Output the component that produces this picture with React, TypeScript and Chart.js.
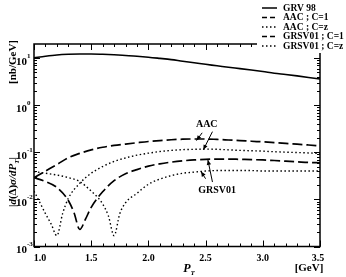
import React, { useEffect, useRef } from "react";
import { Chart, registerables } from "chart.js";
Chart.register(...registerables);

// ---- data ----
const grvX = [1.0, 1.1, 1.2, 1.3, 1.4, 1.5, 1.6, 1.7, 1.8, 1.9, 2.0, 2.1, 2.2, 2.3, 2.4, 2.5, 2.6, 2.7, 2.8, 2.9, 3.0, 3.1, 3.2, 3.3, 3.4, 3.5];
const grvY = [10.2, 11.0, 11.7, 12.1, 12.3, 12.3, 12.1, 11.8, 11.4, 11.0, 10.5, 9.9, 9.3, 8.6, 8.0, 7.4, 6.9, 6.4, 6.0, 5.6, 5.2, 4.8, 4.5, 4.2, 3.9, 3.6];

const aac1X = [1.0, 1.1, 1.2, 1.3, 1.4, 1.5, 1.6, 1.7, 1.8, 1.9, 2.0, 2.1, 2.2, 2.3, 2.4, 2.5, 2.6, 2.7, 2.8, 2.9, 3.0, 3.1, 3.2, 3.3, 3.4, 3.5];
const aac1Y = [0.029, 0.040, 0.055, 0.077, 0.095, 0.113, 0.128, 0.140, 0.150, 0.160, 0.170, 0.178, 0.185, 0.190, 0.192, 0.192, 0.188, 0.183, 0.178, 0.172, 0.167, 0.161, 0.155, 0.149, 0.143, 0.137];

const aaczX = [1.0, 1.05, 1.1, 1.15, 1.2, 1.25, 1.3, 1.4, 1.5, 1.6, 1.7, 1.8, 1.9, 2.0, 2.1, 2.2, 2.3, 2.4, 2.5, 2.6, 2.7, 2.8, 2.9, 3.0, 3.1, 3.2, 3.3, 3.4, 3.5];
const aaczY = [0.015, 0.0087, 0.005, 0.003, 0.0017, 0.005, 0.0105, 0.022, 0.036, 0.050, 0.064, 0.076, 0.087, 0.096, 0.104, 0.110, 0.114, 0.116, 0.117, 0.116, 0.113, 0.110, 0.108, 0.106, 0.103, 0.101, 0.099, 0.097, 0.095];

const grsv1X = [1.0, 1.1, 1.2, 1.3, 1.35, 1.4, 1.45, 1.5, 1.6, 1.7, 1.8, 1.9, 2.0, 2.1, 2.2, 2.3, 2.4, 2.5, 2.6, 2.7, 2.8, 2.9, 3.0, 3.1, 3.2, 3.3, 3.4, 3.5];
const grsv1Y = [0.029, 0.024, 0.018, 0.0095, 0.0052, 0.0023, 0.0038, 0.0068, 0.0145, 0.025, 0.035, 0.043, 0.051, 0.057, 0.062, 0.066, 0.069, 0.071, 0.072, 0.072, 0.071, 0.070, 0.069, 0.067, 0.065, 0.063, 0.061, 0.060];

const grszX = [1.0, 1.1, 1.2, 1.3, 1.4, 1.5, 1.55, 1.6, 1.65, 1.7, 1.75, 1.8, 1.9, 2.0, 2.1, 2.2, 2.3, 2.4, 2.5, 2.6, 2.7, 2.8, 2.9, 3.0, 3.1, 3.2, 3.3, 3.4, 3.5];
const grszY = [0.039, 0.036, 0.033, 0.029, 0.024, 0.015, 0.0115, 0.008, 0.0045, 0.0017, 0.005, 0.0085, 0.0135, 0.021, 0.027, 0.032, 0.036, 0.038, 0.040, 0.041, 0.041, 0.041, 0.041, 0.040, 0.040, 0.040, 0.040, 0.040, 0.040];

const xTickLabels = ["1.0", "1.5", "2.0", "2.5", "3.0", "3.5"];
const yExponents = [-3, -2, -1, 0, 1];
const legendLabels = ["GRV 98", "AAC ; C=1", "AAC ; C=z", "GRSV01 ; C=1", "GRSV01 ; C=z"];

const SERIF = "'Liberation Serif', 'Times New Roman', serif";
const SOLID: number[] = [];
const DASH = [10, 4];
const DOT = [1.5, 2.5];

function pts(xs: number[], ys: number[]) {
  return xs.map((x, i) => ({ x, y: ys[i] }));
}

type Piece = { t: string; font: string; dy?: number };
function drawPieces(ctx: CanvasRenderingContext2D, pieces: Piece[], cx: number, cy: number) {
  let total = 0;
  for (const p of pieces) {
    ctx.font = p.font;
    total += ctx.measureText(p.t).width;
  }
  let x = cx - total / 2;
  ctx.textAlign = "left";
  ctx.textBaseline = "alphabetic";
  for (const p of pieces) {
    ctx.font = p.font;
    ctx.fillText(p.t, x, cy + (p.dy || 0));
    x += ctx.measureText(p.t).width;
  }
}

function arrow(ctx: CanvasRenderingContext2D, x1: number, y1: number, x2: number, y2: number) {
  ctx.beginPath();
  ctx.moveTo(x1, y1);
  ctx.lineTo(x2, y2);
  ctx.stroke();
  const a = Math.atan2(y2 - y1, x2 - x1);
  const L = 5, W = 2.2;
  ctx.beginPath();
  ctx.moveTo(x2, y2);
  ctx.lineTo(x2 - L * Math.cos(a) + W * Math.sin(a), y2 - L * Math.sin(a) - W * Math.cos(a));
  ctx.lineTo(x2 - L * Math.cos(a) - W * Math.sin(a), y2 - L * Math.sin(a) + W * Math.cos(a));
  ctx.closePath();
  ctx.fill();
}

const decor = {
  id: "decor",
  afterDraw(chart: any) {
    const ctx: CanvasRenderingContext2D = chart.ctx;
    const { left, right, top, bottom } = chart.chartArea;
    const xs = chart.scales.x;
    const ys = chart.scales.y;
    ctx.save();
    ctx.strokeStyle = "#000";
    ctx.fillStyle = "#000";
    ctx.setLineDash([]);

    // annotations
    ctx.font = `bold 10px ${SERIF}`;
    ctx.textAlign = "center";
    ctx.textBaseline = "middle";
    ctx.fillText("AAC", xs.getPixelForValue(2.51), ys.getPixelForValue(0.40));
    ctx.fillText("GRSV01", xs.getPixelForValue(2.6), ys.getPixelForValue(0.0158));
    ctx.lineWidth = 1;
    arrow(ctx, xs.getPixelForValue(2.47), ys.getPixelForValue(0.26), xs.getPixelForValue(2.42), ys.getPixelForValue(0.178));
    arrow(ctx, xs.getPixelForValue(2.56), ys.getPixelForValue(0.275), xs.getPixelForValue(2.48), ys.getPixelForValue(0.113));
    arrow(ctx, xs.getPixelForValue(2.56), ys.getPixelForValue(0.0234), xs.getPixelForValue(2.52), ys.getPixelForValue(0.069));
    arrow(ctx, xs.getPixelForValue(2.50), ys.getPixelForValue(0.0275), xs.getPixelForValue(2.46), ys.getPixelForValue(0.039));

    // frame
    ctx.lineWidth = 1.5;
    ctx.strokeRect(left, top, right - left, bottom - top);
    ctx.lineWidth = 1;
    const line = (a: number, b: number, c: number, d: number) => {
      ctx.beginPath();
      ctx.moveTo(a, b);
      ctx.lineTo(c, d);
      ctx.stroke();
    };
    // x ticks
    for (let i = 0; i <= 25; i++) {
      const v = 1 + i * 0.1;
      const px = Math.round(xs.getPixelForValue(v)) + 0.5;
      const len = i % 5 === 0 ? 6 : 3;
      line(px, bottom, px, bottom - len);
      line(px, top, px, top + len);
    }
    // y ticks
    for (let e = -3; e <= 1; e++) {
      for (let m = 1; m <= 9; m++) {
        const v = m * Math.pow(10, e);
        if (v >= 20) break;
        const py = Math.round(ys.getPixelForValue(v)) + 0.5;
        const len = m === 1 ? 6 : 3;
        line(left, py, left + len, py);
        line(right, py, right - len, py);
      }
    }
    // x tick labels
    ctx.font = `bold 10px ${SERIF}`;
    ctx.textAlign = "center";
    ctx.textBaseline = "middle";
    xTickLabels.forEach((lab, i) => {
      let px = xs.getPixelForValue(1 + i * 0.5);
      if (i === 0) px += 6;
      if (i === xTickLabels.length - 1) px -= 2;
      ctx.fillText(lab, px, bottom + 12);
    });
    // y tick labels
    yExponents.forEach((e) => {
      const py = ys.getPixelForValue(Math.pow(10, e));
      ctx.textAlign = "right";
      ctx.textBaseline = "middle";
      ctx.font = `bold 11px ${SERIF}`;
      ctx.fillText("10", 27, py + 3.5);
      ctx.textAlign = "left";
      ctx.font = `bold 7px ${SERIF}`;
      ctx.fillText(String(e).replace("-", "-"), 27, py - 2);
    });

    // x axis title
    ctx.fillStyle = "#000";
    drawPieces(ctx, [
      { t: "P", font: `italic bold 12px ${SERIF}` },
      { t: "T", font: `italic bold 7px ${SERIF}`, dy: 2.5 },
    ], 189, 272);
    ctx.font = `bold 11px ${SERIF}`;
    ctx.textAlign = "center";
    ctx.textBaseline = "middle";
    ctx.fillText("[GeV]", 309, 268);

    // y axis title (rotated)
    ctx.save();
    ctx.translate(16, 0);
    ctx.rotate(-Math.PI / 2);
    const ib = `italic bold 11px ${SERIF}`;
    const nb = `bold 11px ${SERIF}`;
    drawPieces(ctx, [
      { t: "|", font: nb },
      { t: "d", font: ib },
      { t: "(Δ)", font: nb },
      { t: "σ/d", font: ib },
      { t: "P", font: ib },
      { t: "T", font: `italic bold 7px ${SERIF}`, dy: 2.5 },
      { t: "|", font: nb },
    ], -182, 0);
    drawPieces(ctx, [{ t: "[nb/GeV]", font: nb }], -62, 0);
    ctx.restore();

    // legend box
    ctx.fillStyle = "#fff";
    ctx.fillRect(257, 0, 89, 53);
    ctx.fillStyle = "#000";
    const styles = [SOLID, [5, 3], DOT, [5, 3], DOT];
    const rowsY = [8, 17.5, 27, 36.5, 46];
    legendLabels.forEach((lab, i) => {
      const y = rowsY[i];
      ctx.setLineDash(styles[i]);
      ctx.lineWidth = i === 0 ? 1.5 : (styles[i] === DOT ? 1.3 : 1.6);
      line(262, y, 277, y);
      ctx.setLineDash([]);
      ctx.font = `bold 9.5px ${SERIF}`;
      ctx.textAlign = "left";
      ctx.textBaseline = "middle";
      ctx.fillText(lab, 283, y + 0.5);
    });
    ctx.restore();
  },
};

export default function App() {
  const ref = useRef<HTMLCanvasElement | null>(null);
  useEffect(() => {
    if (!ref.current) return;
    const mk = (label: string, xs: number[], ys: number[], dash: number[], w: number) => ({
      label,
      data: pts(xs, ys),
      borderColor: "#000",
      backgroundColor: "#000",
      borderWidth: w,
      borderDash: dash,
      pointRadius: 0,
      cubicInterpolationMode: "monotone" as const,
      fill: false,
    });
    const chart = new Chart(ref.current, {
      type: "line",
      data: {
        datasets: [
          mk(legendLabels[0], grvX, grvY, SOLID, 1.6),
          mk(legendLabels[1], aac1X, aac1Y, DASH, 1.7),
          mk(legendLabels[2], aaczX, aaczY, DOT, 1.4),
          mk(legendLabels[3], grsv1X, grsv1Y, DASH, 1.7),
          mk(legendLabels[4], grszX, grszY, DOT, 1.4),
        ],
      },
      options: {
        animation: false,
        responsive: false,
        layout: { padding: { left: 34, top: 44, right: 26, bottom: 30.5 } },
        plugins: { legend: { display: false }, tooltip: { enabled: false } },
        scales: {
          x: { type: "linear", min: 1, max: 3.5, display: false },
          y: { type: "logarithmic", min: 0.001, max: 20, display: false },
        },
      },
      plugins: [decor],
    });
    return () => chart.destroy();
  }, []);
  return (
    <div style={{ position: "absolute", left: 0, top: 0, width: 346, height: 277, background: "#fff" }}>
      <canvas ref={ref} width={346} height={277} />
    </div>
  );
}
